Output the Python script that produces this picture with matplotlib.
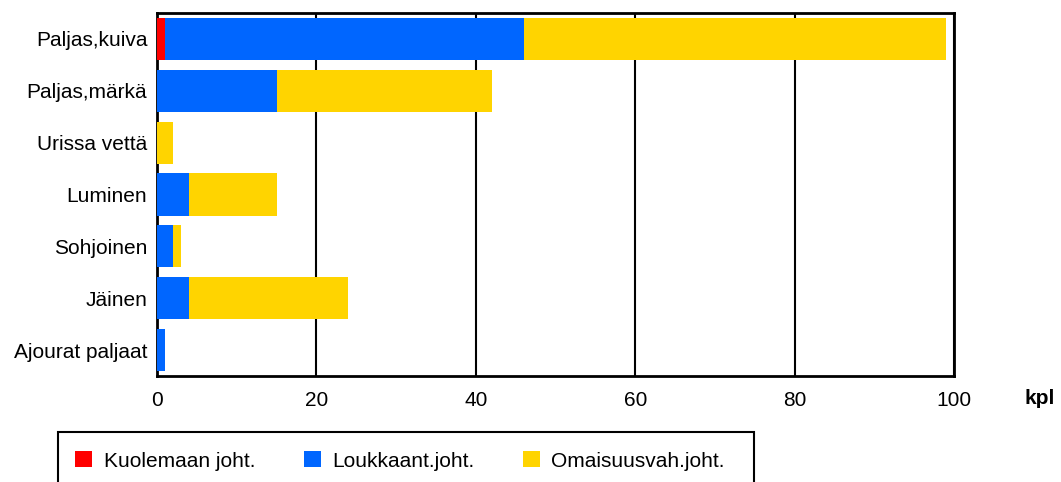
import numpy as np
import matplotlib
matplotlib.use("Agg")
import matplotlib.pyplot as plt
from matplotlib.patches import Rectangle

plt.rcParams["font.family"] = ["Liberation Sans", "DejaVu Sans"]

# ---------------------------------------------------------------------------
#  Data (onnettomuudet tien pintatyypin mukaan)
# ---------------------------------------------------------------------------
categories = ["Paljas,kuiva", "Paljas,märkä", "Urissa vettä", "Luminen",
              "Sohjoinen", "Jäinen", "Ajourat paljaat"]
kuolemaan = [1, 0, 0, 0, 0, 0, 0]
loukkaant = [45, 15, 0, 4, 2, 4, 1]
omaisuus = [53, 27, 2, 11, 1, 20, 0]
series_labels = ["Kuolemaan joht.", "Loukkaant.joht.", "Omaisuusvah.joht."]
colors = ["#FF0000", "#0066FF", "#FFD400"]
xticks = [0, 20, 40, 60, 80, 100]

# ---------------------------------------------------------------------------
#  Plot
# ---------------------------------------------------------------------------
fig = plt.figure(figsize=(10.61, 4.82), dpi=100)
ax = fig.add_axes([157/1061, 1 - 376/482, (954 - 157)/1061, (376 - 13)/482])

y = np.arange(len(categories))[::-1]
left = np.zeros(len(categories))
handles = []
for vals, lab, col in zip([kuolemaan, loukkaant, omaisuus], series_labels, colors):
    vals = np.array(vals, dtype=float)
    h = ax.barh(y, vals, left=left, height=0.81, color=col, label=lab, zorder=3)
    handles.append(h)
    left += vals

ax.set_xlim(0, 100)
ax.set_ylim(-0.5, len(categories) - 0.5)
ax.set_xticks(xticks)
ax.set_yticks(y)
ax.set_yticklabels(categories)
ax.tick_params(axis="both", length=0, labelsize=15)
ax.tick_params(axis="x", pad=11)
ax.tick_params(axis="y", pad=7)
ax.grid(True, axis="x", color="black", lw=1.5, zorder=1)
for sp in ax.spines.values():
    sp.set_linewidth(2)
    sp.set_color("black")

fig.text(1025/1061, 1 - 399/482, "kpl", fontsize=15, fontweight="bold",
         ha="left", va="center")

# legend box (cut off at figure bottom like the original)
fig.patches.append(Rectangle((58/1061, -0.1), (754 - 58)/1061, 1 - 432/482 + 0.1,
                             transform=fig.transFigure, fill=False,
                             edgecolor="black", lw=1.5))
fig.legend(handles=handles, loc="center left",
           bbox_to_anchor=(65/1061, 1 - 461/482), ncol=3, frameon=False,
           fontsize=15, borderpad=0, handlelength=0.8, handleheight=0.8,
           handletextpad=0.55, columnspacing=2.35)

fig.savefig("out.png", dpi=100)
